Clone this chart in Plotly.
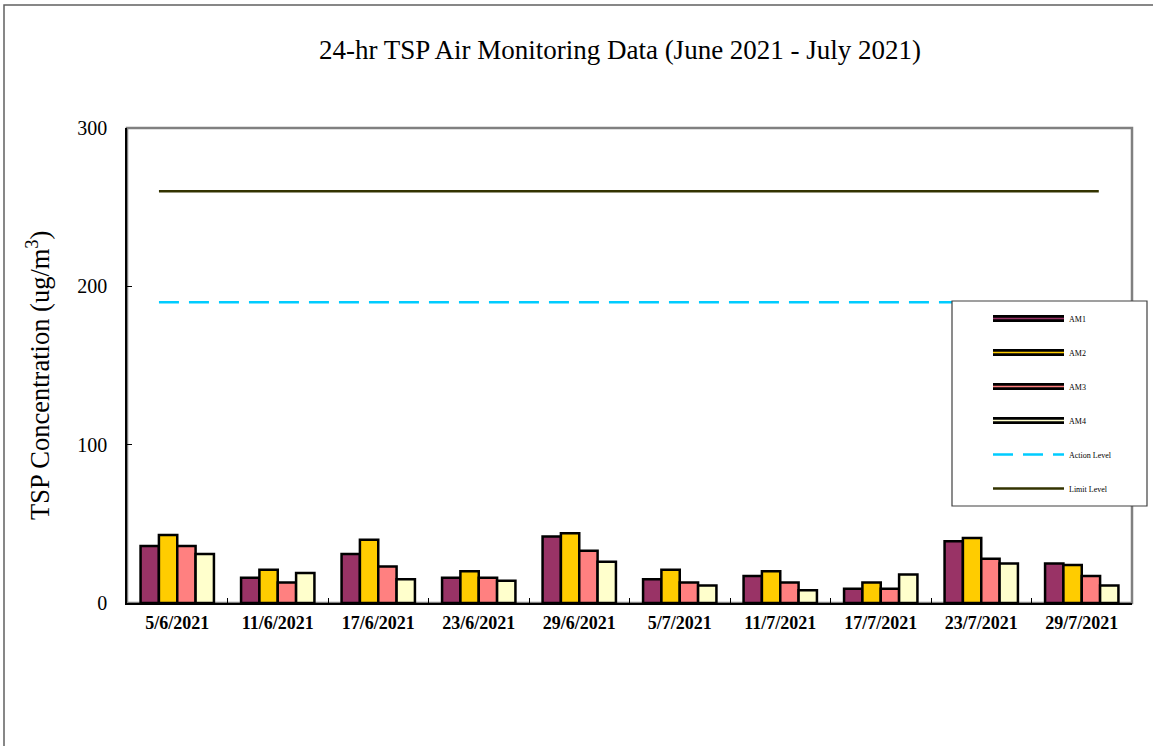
import plotly.graph_objects as go

# datos
dates = ["5/6/2021", "11/6/2021", "17/6/2021", "23/6/2021", "29/6/2021",
         "5/7/2021", "11/7/2021", "17/7/2021", "23/7/2021", "29/7/2021"]
am1 = [36, 16, 31, 16, 42, 15, 17, 9, 39, 25]
am2 = [43, 21, 40, 20, 44, 21, 20, 13, 41, 24]
am3 = [36, 13, 23, 16, 33, 13, 13, 9, 28, 17]
am4 = [31, 19, 15, 14, 26, 11, 8, 18, 25, 11]
action_level = [190] * len(dates)
limit_level = [260] * len(dates)

series = [("AM1", am1, "#993366"), ("AM2", am2, "#FFCC00"),
          ("AM3", am3, "#FF8080"), ("AM4", am4, "#FFFFCC")]

W, H = 1153, 746
L, R, T, B = 127, 1132, 128, 603


def px_x(p):
    return (p - L) / (R - L)


def px_y(p):
    return (B - p) / (B - T)


fig = go.Figure()

for name, vals, col in series:
    fig.add_trace(go.Bar(x=dates, y=vals, name=name, marker_color=col,
                         marker_line=dict(color="black", width=2.5),
                         showlegend=False, legendgroup=name))
    # entrada de leyenda: linea negra gruesa + linea de color fina
    fig.add_trace(go.Scatter(x=[None], y=[None], mode="lines", name=name,
                             line=dict(color="black", width=7),
                             legendgroup=name, legend="legend"))
    fig.add_trace(go.Scatter(x=[None], y=[None], mode="lines", name=name,
                             line=dict(color=col, width=1.3),
                             legendgroup=name, legend="legend2"))

fig.add_trace(go.Scatter(x=dates, y=action_level, mode="lines", name="Action Level",
                         xaxis="x2", line=dict(color="#00CCFF", width=2.5, dash="20px,10px"),
                         legendgroup="action", legend="legend"))
fig.add_trace(go.Scatter(x=dates, y=limit_level, mode="lines", name="Limit Level",
                         xaxis="x2", line=dict(color="#333300", width=2.5),
                         legendgroup="limit", legend="legend"))

serif = "Liberation Serif, Times New Roman, serif"
legend_common = dict(x=px_x(988), y=px_y(304), xanchor="left", yanchor="top",
                     bgcolor="rgba(0,0,0,0)", borderwidth=0, itemwidth=71,
                     tracegroupgap=15, itemclick=False, itemdoubleclick=False)

fig.update_layout(
    width=W, height=H,
    margin=dict(l=L, r=W - R, t=T, b=H - B),
    paper_bgcolor="white", plot_bgcolor="white",
    font=dict(family=serif, color="black"),
    barmode="group", bargap=0.27, bargroupgap=0,
    title=dict(text="24-hr TSP Air Monitoring Data (June 2021 - July 2021)",
               x=620 / W, xanchor="center", y=1 - 50 / H, yanchor="middle",
               font=dict(size=27, family=serif, color="black")),
    xaxis=dict(type="category", range=[-0.5, 9.5], showline=True, linecolor="black",
               linewidth=1.5, ticks="inside", tickson="boundaries", ticklen=5,
               tickcolor="black", showgrid=False, ticklabelstandoff=3,
               tickfont=dict(size=18, family=serif, weight="bold")),
    xaxis2=dict(type="category", overlaying="x", range=[-0.306, 9.318], visible=False),
    yaxis=dict(range=[0, 300], dtick=100, showline=True, linecolor="black", linewidth=1.5,
               ticks="inside", ticklen=5, tickcolor="black", showgrid=False,
               zeroline=False, ticklabelstandoff=14,
               tickfont=dict(size=20, family=serif)),
    annotations=[
        dict(text="TSP Concentration (ug/m<sup>3</sup>)", xref="paper", yref="paper",
             x=px_x(38), y=px_y(376), xanchor="center", yanchor="middle",
             textangle=-90, showarrow=False, font=dict(size=26.5, family=serif)),
    ],
    legend=dict(font=dict(size=8, family=serif, color="black"), **legend_common),
    legend2=dict(font=dict(size=8, family=serif, color="rgba(0,0,0,0)"), **legend_common),
    shapes=[
        # marco exterior del grafico
        dict(type="rect", xref="paper", yref="paper", x0=px_x(4), x1=px_x(1160),
             y0=px_y(760), y1=px_y(5), line=dict(color="#606060", width=1.5), layer="below"),
        # borde gris del area de trazado
        dict(type="rect", xref="paper", yref="paper", x0=0, x1=1, y0=0, y1=1,
             line=dict(color="#808080", width=2.5), layer="below"),
        # caja de la leyenda
        dict(type="rect", xref="paper", yref="paper", x0=px_x(952), x1=px_x(1147),
             y0=px_y(506), y1=px_y(301), line=dict(color="#404040", width=1.2),
             fillcolor="white", layer="above"),
    ],
)

fig.write_html("out.html", config={"displayModeBar": False},
               post_script="document.body.style.margin='0px';")
